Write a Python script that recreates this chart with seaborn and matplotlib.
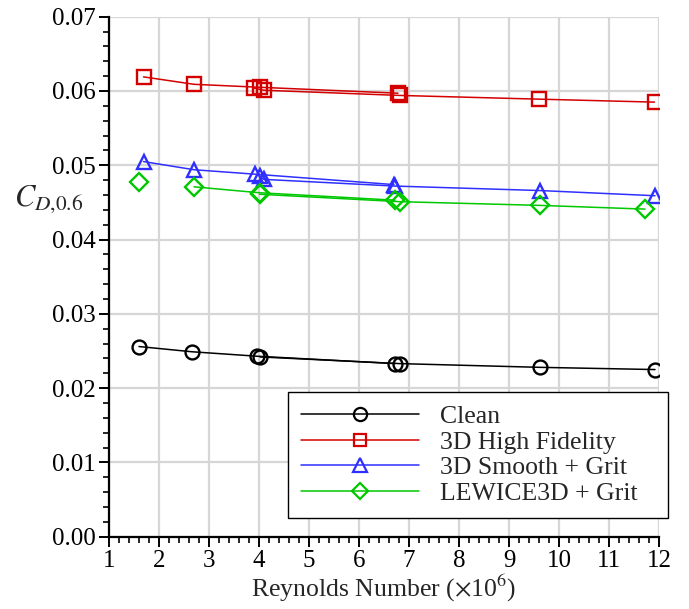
import matplotlib
matplotlib.use("Agg")
import matplotlib.pyplot as plt
import seaborn as sns
import pandas as pd
from matplotlib.lines import Line2D
from matplotlib.ticker import MultipleLocator, FormatStrFormatter

# ---- data ----
series_names = ["Clean", "3D High Fidelity", "3D Smooth + Grit", "LEWICE3D + Grit"]

clean_x1 = [1.6, 2.65, 3.95, 6.72]
clean_y1 = [0.0256, 0.0249, 0.0243, 0.0233]
clean_x2 = [4.02, 6.82, 9.61, 11.92]
clean_y2 = [0.0242, 0.0233, 0.0228, 0.0225]

hifi_x1 = [1.69, 2.70, 4.01, 6.78]
hifi_y1 = [0.0619, 0.0609, 0.0605, 0.0597]
hifi_x2 = [3.89, 4.10, 6.82, 9.60, 11.91]
hifi_y2 = [0.0604, 0.0601, 0.0594, 0.0589, 0.0585]

smooth_x1 = [1.69, 2.70, 3.92, 6.70]
smooth_y1 = [0.0505, 0.0494, 0.0488, 0.0474]
smooth_x2 = [4.01, 4.10, 6.72, 9.61, 11.92]
smooth_y2 = [0.0485, 0.0481, 0.0472, 0.0466, 0.0459]

lewice_x0 = [1.60]
lewice_y0 = [0.0478]
lewice_x1 = [2.70, 4.01, 6.72]
lewice_y1 = [0.0471, 0.0463, 0.0453]
lewice_x2 = [4.01, 6.81, 9.62, 11.72]
lewice_y2 = [0.0461, 0.0451, 0.0446, 0.0441]

x_ticks = [1, 2, 3, 4, 5, 6, 7, 8, 9, 10, 11, 12]
y_ticks = [0.00, 0.01, 0.02, 0.03, 0.04, 0.05, 0.06, 0.07]

colors = ["#000000", "#d40000", "#2f2fff", "#00c800"]
markers = ["o", "s", "^", "D"]
msizes = [10.0, 9.5, 10.5, 9.0]

sns.set_theme(style="white")
plt.rcParams["font.family"] = ["Liberation Serif", "DejaVu Serif"]
plt.rcParams["mathtext.fontset"] = "stix"

fig = plt.figure(figsize=(6.89, 6.09), dpi=100)
ax = fig.add_axes([109/689, 1 - 536.7/609, 550/689, 520/609])

groups = [
    [(clean_x1, clean_y1), (clean_x2, clean_y2)],
    [(hifi_x1, hifi_y1), (hifi_x2, hifi_y2)],
    [(smooth_x1, smooth_y1), (smooth_x2, smooth_y2)],
    [(lewice_x0, lewice_y0), (lewice_x1, lewice_y1), (lewice_x2, lewice_y2)],
]

for i, grp in enumerate(groups):
    for xs, ys in grp:
        df = pd.DataFrame({"x": xs, "y": ys})
        sns.lineplot(data=df, x="x", y="y", ax=ax, sort=False, estimator=None,
                     color=colors[i], marker=markers[i], markersize=msizes[i],
                     markerfacecolor="none", markeredgecolor=colors[i],
                     markeredgewidth=1.7, linewidth=1.1, zorder=3)

ax.set_xlim(1, 12)
ax.set_ylim(0, 0.07)
ax.set_xticks(x_ticks)
ax.set_yticks(y_ticks)
ax.yaxis.set_major_formatter(FormatStrFormatter("%.2f"))
ax.xaxis.set_minor_locator(MultipleLocator(0.2))
ax.yaxis.set_minor_locator(MultipleLocator(0.002))
ax.grid(True, which="major", color="#d6d6d6", linewidth=1.6, zorder=0)
ax.set_axisbelow(True)

for s in ["top", "right"]:
    ax.spines[s].set_visible(False)
for s in ["left", "bottom"]:
    ax.spines[s].set_color("black")
    ax.spines[s].set_linewidth(1.6)

ax.tick_params(which="major", direction="out", length=7.5, width=1.4,
               colors="black", labelsize=18, pad=2,
               left=True, bottom=True)
ax.tick_params(which="minor", direction="out", length=4, width=1.2,
               colors="black", left=True, bottom=True)

ax.set_xlabel(r"Reynolds Number ($\times$10$^{6}$)", fontsize=18.5, labelpad=1)
ax.set_ylabel(r"$\mathit{C}_{\mathit{D{,}0.6}}$", fontsize=22, rotation=0,
              ha="center", va="center")
ax.yaxis.set_label_coords(-0.11, 0.65)

handles = [Line2D([0], [0], color=colors[i], marker=markers[i],
                  markersize=msizes[i] * 0.95, markerfacecolor="none",
                  markeredgecolor=colors[i], markeredgewidth=1.6,
                  linewidth=1.1) for i in range(4)]
leg = fig.legend(handles, series_names, loc="upper left", mode="expand",
                 bbox_to_anchor=(288/689, (609 - 517)/609, 380/689, 125/609),
                 bbox_transform=fig.transFigure, fontsize=18.5,
                 handlelength=4.6, handletextpad=0.8, labelspacing=0.11,
                 borderpad=0.5, borderaxespad=0, fancybox=False,
                 framealpha=1, edgecolor="black", frameon=True)
leg.get_frame().set_linewidth(1.0)

fig.savefig("out.png", dpi=100)
